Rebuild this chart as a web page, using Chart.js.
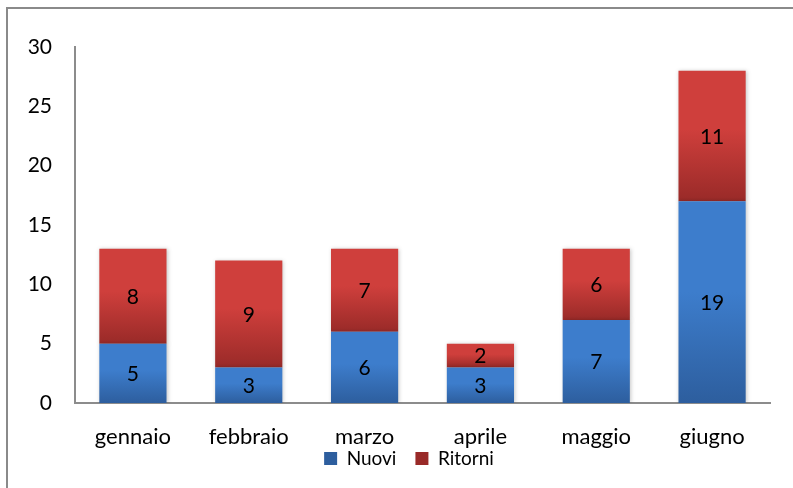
<!DOCTYPE html>
<html>
<head>
<meta charset="utf-8">
<script src="https://cdn.jsdelivr.net/npm/chart.js@4/dist/chart.umd.min.js"></script>
<style>
  html, body { margin: 0; padding: 0; background: #ffffff; }
  #wrap { position: relative; width: 793px; height: 488px; overflow: hidden; }
  canvas { display: block; }
</style>
</head>
<body>
<div id="wrap"><canvas id="c" width="793" height="488"></canvas></div>
<script>
// ---- data ----
const categories = ['gennaio', 'febbraio', 'marzo', 'aprile', 'maggio', 'giugno'];
const nuoviValues = [5, 3, 6, 3, 7, 17];
const ritorniValues = [8, 9, 7, 2, 6, 11];
// labels as printed on the bars in the reference
const nuoviLabels = ['5', '3', '6', '3', '7', '19'];
const ritorniLabels = ['8', '9', '7', '2', '6', '11'];
const yTicks = [0, 5, 10, 15, 20, 25, 30];

const FONT = 'Lato, "Liberation Sans", sans-serif';

function gradientFor(ctx, top, bottom, c1, c2) {
  const g = ctx.createLinearGradient(0, top, 0, bottom);
  g.addColorStop(0, c1);
  g.addColorStop(0.45, c1);
  g.addColorStop(1, c2);
  return g;
}

function makeBg(seriesIdx, c1, c2, solid) {
  return function (context) {
    const chart = context.chart;
    const y = chart.scales && chart.scales.y;
    if (context.dataIndex === undefined || !y || !chart.chartArea) return solid;
    const i = context.dataIndex;
    let lo, hi;
    if (seriesIdx === 0) { lo = 0; hi = nuoviValues[i]; }
    else { lo = nuoviValues[i]; hi = nuoviValues[i] + ritorniValues[i]; }
    const top = y.getPixelForValue(hi);
    const bottom = y.getPixelForValue(lo);
    if (!isFinite(top) || !isFinite(bottom) || top === bottom) return solid;
    return gradientFor(chart.ctx, top, bottom, c1, c2);
  };
}

// let tick labels draw outside their (deliberately narrow) axis boxes
function noLabelClip(scale) {
  scale._computeLabelArea = function () { return undefined; };
}

const frame = {
  id: 'frame',
  beforeDraw(chart) {
    const ctx = chart.ctx;
    ctx.save();
    ctx.strokeStyle = '#8a8a8a';
    ctx.lineWidth = 2;
    ctx.beginPath();
    ctx.moveTo(7, 500);
    ctx.lineTo(7, 8);
    ctx.lineTo(800, 8);
    ctx.stroke();
    ctx.restore();
  }
};

const shadow = {
  id: 'barShadow',
  beforeDatasetDraw(chart) {
    const ctx = chart.ctx;
    ctx.save();
    ctx.shadowColor = 'rgba(0,0,0,0.22)';
    ctx.shadowBlur = 4;
    ctx.shadowOffsetX = 1;
    ctx.shadowOffsetY = 0;
  },
  afterDatasetDraw(chart) {
    chart.ctx.restore();
  }
};

const valueLabels = {
  id: 'valueLabels',
  afterDatasetsDraw(chart) {
    const ctx = chart.ctx;
    const sets = [nuoviLabels, ritorniLabels];
    ctx.save();
    ctx.fillStyle = '#000000';
    ctx.font = '21px ' + FONT;
    ctx.textAlign = 'center';
    ctx.textBaseline = 'middle';
    chart.data.datasets.forEach((ds, di) => {
      const meta = chart.getDatasetMeta(di);
      meta.data.forEach((bar, i) => {
        const p = bar.getCenterPoint();
        ctx.fillText(sets[di][i], p.x, p.y + 1);
      });
    });
    ctx.restore();
  }
};

new Chart(document.getElementById('c'), {
  type: 'bar',
  data: {
    labels: categories,
    datasets: [
      {
        label: 'Nuovi',
        data: nuoviValues,
        backgroundColor: makeBg(0, '#3d7dcc', '#2d5e9e', '#3a73bd'),
        borderWidth: 0,
        categoryPercentage: 1.0,
        barPercentage: 0.58
      },
      {
        label: 'Ritorni',
        data: ritorniValues,
        backgroundColor: makeBg(1, '#cf3f3c', '#992a28', '#c03836'),
        borderWidth: 0,
        categoryPercentage: 1.0,
        barPercentage: 0.58
      }
    ]
  },
  options: {
    responsive: false,
    animation: false,
    devicePixelRatio: 1,
    layout: { padding: { top: 47, left: 48, right: 23, bottom: 10 } },
    plugins: {
      legend: {
        position: 'bottom',
        align: 'center',
        labels: {
          boxWidth: 13,
          boxHeight: 13,
          padding: 19,
          color: '#000000',
          font: { family: FONT, size: 19 }
        }
      },
      tooltip: { enabled: false }
    },
    scales: {
      x: {
        stacked: true,
        grid: { display: false, drawTicks: false },
        border: { display: true, color: '#8c8c8c', width: 2 },
        ticks: { color: '#000000', padding: 21, font: { family: FONT, size: 22 } },
        afterFit(scale) { scale.height = 27; noLabelClip(scale); }
      },
      y: {
        stacked: true,
        min: 0,
        max: 30,
        grid: { display: false, drawTicks: false },
        border: { display: true, color: '#8c8c8c', width: 2 },
        afterBuildTicks(scale) { scale.ticks = yTicks.map(v => ({ value: v })); },
        ticks: { color: '#000000', padding: 23, font: { family: FONT, size: 21 } },
        afterFit(scale) { scale.width = 27; noLabelClip(scale); }
      }
    }
  },
  plugins: [frame, shadow, valueLabels]
});
</script>
</body>
</html>
